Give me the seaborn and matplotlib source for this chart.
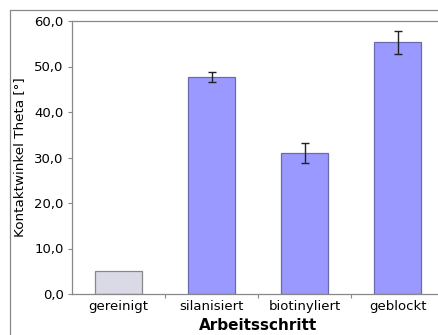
import numpy as np
import pandas as pd
import matplotlib
matplotlib.use('Agg')
import matplotlib.pyplot as plt
import seaborn as sns
from matplotlib.ticker import FuncFormatter, FixedLocator
from matplotlib.lines import Line2D

# Daten
schritte = ['gereinigt', 'silanisiert', 'biotinyliert', 'geblockt']
winkel = [5.0, 47.6, 31.0, 55.3]
fehler = [0.0, 1.1, 2.1, 2.6]
farben = ['#DADAE6', '#9999FF', '#9999FF', '#9999FF']
kanten = ['#888888', '#6A6AB0', '#6A6AB0', '#6A6AB0']

sns.set_theme(style='white')
plt.rcParams['font.family'] = ['DejaVu Sans']
plt.rcParams['text.color'] = 'black'
plt.rcParams['axes.labelcolor'] = 'black'
plt.rcParams['xtick.color'] = 'black'
plt.rcParams['ytick.color'] = 'black'

df = pd.DataFrame({'Arbeitsschritt': schritte, 'Winkel': winkel})

W, H = 439, 335
fig = plt.figure(figsize=(W / 100, H / 100), dpi=100)
ax = fig.add_axes([72 / W, 1 - 294 / H, 372 / W, 273 / H])

sns.barplot(data=df, x='Arbeitsschritt', y='Winkel', hue='Arbeitsschritt',
            palette=farben, saturation=1, legend=False, width=0.5,
            errorbar=None, ax=ax, linewidth=0.9)
for bar, ec in zip(ax.patches, kanten):
    bar.set_edgecolor(ec)

# Fehlerbalken
for i, (v, e) in enumerate(zip(winkel, fehler)):
    if e > 0:
        ax.errorbar(i, v, yerr=e, fmt='none', ecolor='#222222',
                    elinewidth=1.0, capsize=3, capthick=1.0, zorder=5)

ax.set_xlim(-0.5, 3.5)
ax.set_ylim(0, 60)
ax.set_yticks(np.arange(0, 61, 10))
ax.yaxis.set_major_formatter(FuncFormatter(lambda v, p: f'{v:.1f}'.replace('.', ',')))
ax.xaxis.set_minor_locator(FixedLocator([0.5, 1.5, 2.5]))

ax.tick_params(axis='y', which='major', length=3, width=0.8, color='#888888',
               labelsize=9.5, pad=3, left=True, direction='out')
ax.tick_params(axis='x', which='major', length=0, labelsize=9.5, pad=4)
ax.tick_params(axis='x', which='minor', length=3, width=0.8, color='#888888',
               bottom=True, direction='out')

for s in ax.spines.values():
    s.set_color('#888888')
    s.set_linewidth(0.9)

ax.set_xlabel('Arbeitsschritt', fontsize=11, fontweight='bold', labelpad=4)
ax.set_ylabel('Kontaktwinkel Theta [°]', fontsize=9.7, labelpad=6)

# äußerer Rahmen
fig.add_artist(Line2D([10 / W, 10 / W], [0, 1 - 10 / H], transform=fig.transFigure,
                      color='#888888', linewidth=0.9))
fig.add_artist(Line2D([10 / W, 1], [1 - 10 / H, 1 - 10 / H], transform=fig.transFigure,
                      color='#888888', linewidth=0.9))

fig.savefig('out.png', dpi=100)
